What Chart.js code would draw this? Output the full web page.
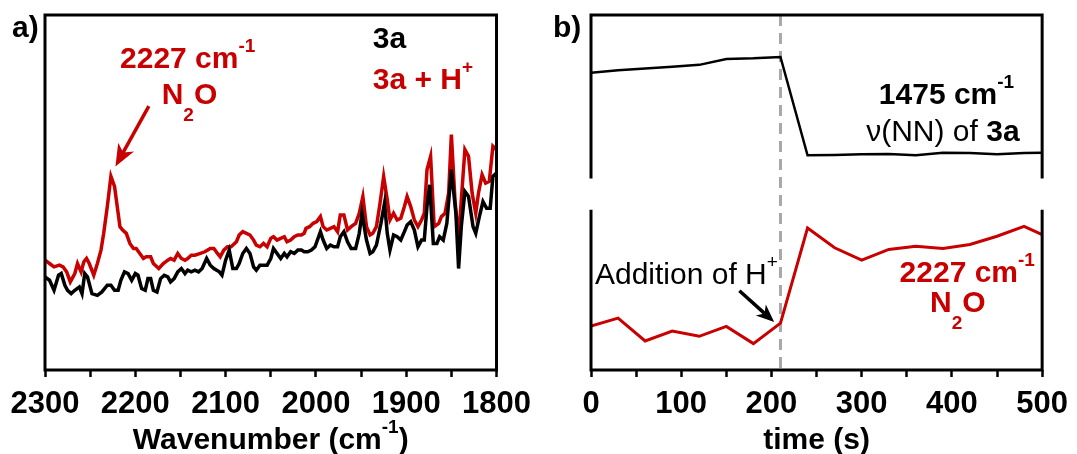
<!DOCTYPE html>
<html>
<head>
<meta charset="utf-8">
<script src="https://cdn.jsdelivr.net/npm/chart.js@4.4.0/dist/chart.umd.min.js"></script>
<style>
  html, body { margin: 0; padding: 0; background: #fff; }
  #wrap { position: relative; width: 1077px; height: 454px; overflow: hidden; }
  canvas { position: absolute; top: 0; }
  #irChart { left: 0; }
  #timeChart { left: 540px; }
</style>
</head>
<body>
<div id="wrap">
  <canvas id="irChart" width="540" height="454"></canvas>
  <canvas id="timeChart" width="537" height="454"></canvas>
</div>
<script>
const RED = '#c80000';
const FONT = "'Liberation Sans', Arial, sans-serif";

// a) IR spectra, 3a + H+ (red)
const wnRed = [2300, 2295, 2290, 2284, 2280, 2276, 2272, 2267, 2264, 2260,
  2257, 2254, 2251, 2246, 2242, 2238, 2235, 2231, 2227, 2223,
  2219, 2217, 2214, 2210, 2206, 2202, 2199, 2195, 2191, 2188,
  2183, 2180, 2174, 2169, 2164, 2161, 2157, 2153, 2149, 2145,
  2142, 2138, 2134, 2128, 2123, 2117, 2113, 2109, 2106, 2102,
  2098, 2094, 2088, 2085, 2081, 2077, 2073, 2069, 2066, 2062,
  2058, 2054, 2050, 2047, 2043, 2039, 2035, 2032, 2028, 2024,
  2020, 2016, 2013, 2011, 2007, 2003, 1999, 1995, 1992, 1988,
  1984, 1980, 1976, 1973, 1969, 1965, 1961, 1956, 1952, 1948,
  1944, 1940, 1937, 1933, 1929, 1925, 1921, 1918, 1914, 1910,
  1906, 1902, 1899, 1895, 1891, 1887, 1883, 1880, 1877, 1873,
  1869, 1864, 1861, 1857, 1853, 1850, 1846, 1842, 1839, 1835,
  1831, 1827, 1823, 1820, 1816, 1812, 1808, 1804, 1800];
const absRed = [32.8, 31.8, 30.8, 31.3, 30.8, 29.3, 26.3, 28.8, 31.8, 29.3,
  32.3, 33.3, 31.8, 28.3, 31.8, 35.8, 40.8, 48.8, 57.8, 54.8,
  46.8, 42.8, 41.8, 40.8, 37.8, 36.3, 36.3, 34.8, 33.3, 33.8,
  33.8, 31.8, 30.3, 31.8, 32.8, 33.3, 32.8, 34.8, 33.3, 32.8,
  33.3, 34.3, 34.3, 34.8, 35.3, 36.3, 36.3, 34.8, 33.8, 35.8,
  36.8, 36.8, 38.3, 40.3, 41.3, 40.8, 40.3, 38.8, 37.3, 36.8,
  37.8, 36.8, 39.3, 39.8, 38.8, 39.3, 39.8, 38.3, 38.8, 39.8,
  40.3, 40.3, 40.8, 42.3, 42.8, 43.8, 44.3, 45.8, 42.8, 41.8,
  42.3, 42.8, 41.3, 46.3, 46.3, 41.8, 42.8, 43.8, 46.8, 51.8,
  42.8, 40.3, 40.8, 42.8, 49.8, 57.8, 50.8, 44.8, 46.8, 44.8,
  45.3, 48.8, 51.8, 48.8, 44.8, 42.8, 44.8, 46.8, 59.8, 63.8,
  42.8, 43.8, 45.8, 46.8, 52.8, 70.3, 50.8, 38.8, 50.8, 65.8,
  63.8, 52.8, 46.8, 52.8, 58.3, 55.8, 56.3, 66.8, 65.8];

// a) IR spectra, 3a (black)
const wnBlack = [2300, 2295, 2290, 2285, 2282, 2278, 2275, 2271, 2267, 2262,
  2259, 2256, 2253, 2248, 2242, 2237, 2231, 2227, 2223, 2219,
  2216, 2212, 2208, 2204, 2200, 2197, 2193, 2189, 2186, 2183,
  2180, 2176, 2172, 2168, 2164, 2161, 2157, 2153, 2149, 2145,
  2142, 2138, 2134, 2130, 2126, 2121, 2117, 2113, 2107, 2104,
  2100, 2096, 2092, 2088, 2085, 2081, 2077, 2073, 2069, 2066,
  2062, 2054, 2050, 2047, 2043, 2039, 2035, 2032, 2028, 2024,
  2020, 2016, 2013, 2009, 2005, 2001, 1995, 1992, 1988, 1984,
  1980, 1976, 1973, 1969, 1965, 1961, 1956, 1952, 1949, 1944,
  1940, 1937, 1933, 1928, 1924, 1921, 1918, 1914, 1910, 1906,
  1902, 1899, 1895, 1891, 1887, 1883, 1880, 1877, 1874, 1870,
  1866, 1863, 1859, 1855, 1850, 1845, 1842, 1839, 1835, 1831,
  1826, 1823, 1819, 1815, 1811, 1807, 1804, 1800];
const absBlack = [27.8, 26.8, 23.8, 28.3, 28.8, 25.3, 23.8, 22.8, 23.8, 24.8,
  22.8, 28.8, 27.8, 22.8, 22.3, 23.3, 25.3, 25.3, 23.8, 23.8,
  26.8, 29.3, 28.8, 26.8, 28.8, 28.3, 24.3, 23.8, 27.3, 27.3,
  23.8, 23.3, 27.3, 28.3, 27.8, 26.3, 27.3, 29.3, 30.3, 28.8,
  29.8, 29.3, 29.8, 29.3, 30.3, 33.3, 31.3, 30.3, 29.3, 28.3,
  32.8, 35.8, 30.3, 30.3, 31.8, 34.8, 36.3, 34.8, 30.8, 29.8,
  31.3, 31.3, 33.3, 36.3, 34.8, 33.3, 34.8, 33.8, 35.3, 34.8,
  35.8, 35.8, 35.3, 35.3, 35.8, 36.8, 41.3, 38.8, 36.3, 37.3,
  36.8, 36.8, 39.8, 41.3, 38.3, 36.3, 36.3, 40.8, 46.8, 38.8,
  34.8, 35.3, 37.3, 43.8, 49.8, 40.8, 35.8, 40.3, 39.8, 38.8,
  41.3, 43.3, 44.3, 41.8, 36.8, 38.8, 38.8, 48.8, 55.3, 37.8,
  37.8, 39.8, 38.8, 43.8, 59.8, 46.8, 30.3, 42.8, 53.3, 51.8,
  42.8, 40.8, 45.8, 50.3, 48.3, 48.3, 57.8, 58.8];
const wnTicks = [2300, 2200, 2100, 2000, 1900, 1800];

// b) band intensity against time
const timeS = [0, 30, 60, 90, 120, 150, 180, 210, 240, 270, 300, 330, 360, 390, 420, 450, 480, 500];
const nnBand = [90, 90.8, 91.3, 91.8, 92.4, 94.2, 94.4, 94.8, 65, 65.1, 65.3, 65.4, 65, 65.8, 65.7, 65.3, 65.7, 65.8];
const n2oBand = [13.3, 15.7, 8.8, 11.8, 10.2, 13.2, 8, 14.2, 43, 37, 33.3, 36.5, 37.5, 36.8, 38, 40.5, 43.5, 41];
const timeTicks = [0, 100, 200, 300, 400, 500];
const additionTime = 210;

const pts = (xs, ys) => xs.map((x, i) => ({ x, y: ys[i] }));

// draw a run of text pieces: [text, size, weight, baseline shift]
function richText(ctx, parts, x, y, align, color) {
  let w = 0;
  parts.forEach(p => { ctx.font = `${p[2]} ${p[1]}px ${FONT}`; w += ctx.measureText(p[0]).width; });
  let cx = align === 'center' ? x - w / 2 : x;
  ctx.fillStyle = color;
  ctx.textAlign = 'left';
  ctx.textBaseline = 'alphabetic';
  parts.forEach(p => {
    ctx.font = `${p[2]} ${p[1]}px ${FONT}`;
    ctx.fillText(p[0], cx, y + p[3]);
    cx += ctx.measureText(p[0]).width;
  });
}

function arrow(ctx, x1, y1, x2, y2, color, lw, len, wid) {
  const ang = Math.atan2(y2 - y1, x2 - x1);
  ctx.save();
  ctx.strokeStyle = color;
  ctx.fillStyle = color;
  ctx.lineWidth = lw;
  ctx.beginPath();
  ctx.moveTo(x1, y1);
  ctx.lineTo(x2 - len * 0.7 * Math.cos(ang), y2 - len * 0.7 * Math.sin(ang));
  ctx.stroke();
  ctx.translate(x2, y2);
  ctx.rotate(ang);
  ctx.beginPath();
  ctx.moveTo(0, 0);
  ctx.lineTo(-len, -wid / 2);
  ctx.lineTo(-len * 0.72, 0);
  ctx.lineTo(-len, wid / 2);
  ctx.closePath();
  ctx.fill();
  ctx.restore();
}

const tickFont = { family: FONT, size: 31, weight: 'bold' };

const irDecor = {
  id: 'irDecor',
  afterDraw(chart) {
    const { ctx, chartArea: a } = chart;
    const xs = chart.scales.x, ys = chart.scales.y;
    ctx.save();
    ctx.strokeStyle = '#000';
    ctx.lineWidth = 3;
    ctx.strokeRect(a.left, a.top, a.right - a.left, a.bottom - a.top);

    richText(ctx, [['2227 cm', 30, 'bold', 0], ['-1', 19, 'bold', -16]],
      xs.getPixelForValue(2142), ys.getPixelForValue(90.3), 'center', RED);
    richText(ctx, [['N', 30, 'bold', 0], ['2', 19, 'bold', 17], ['O', 30, 'bold', 0]],
      xs.getPixelForValue(2140), ys.getPixelForValue(79.3), 'center', RED);
    arrow(ctx, xs.getPixelForValue(2185), ys.getPixelForValue(78.8),
      xs.getPixelForValue(2222), ys.getPixelForValue(60.8), RED, 3.5, 22, 18);
    richText(ctx, [['3a', 30, 'bold', 0]],
      xs.getPixelForValue(1937), ys.getPixelForValue(96), 'left', '#000');
    richText(ctx, [['3a + H', 30, 'bold', 0], ['+', 19, 'bold', -16]],
      xs.getPixelForValue(1937), ys.getPixelForValue(84), 'left', RED);

    richText(ctx, [['a)', 30, 'bold', 0]], 12, 37, 'left', '#000');
    richText(ctx, [['Wavenumber (cm', 30, 'bold', 0], ['-1', 19, 'bold', -16], [')', 30, 'bold', 0]],
      (a.left + a.right) / 2, 449, 'center', '#000');
    ctx.restore();
  }
};

const timeDecor = {
  id: 'timeDecor',
  beforeDatasetsDraw(chart) {
    const { ctx, chartArea: a } = chart;
    const x = chart.scales.x.getPixelForValue(additionTime);
    ctx.save();
    ctx.strokeStyle = '#a8a8a8';
    ctx.lineWidth = 3;
    ctx.setLineDash([11, 7]);
    ctx.beginPath();
    ctx.moveTo(x, a.top);
    ctx.lineTo(x, a.bottom);
    ctx.stroke();
    ctx.restore();
  },
  afterDraw(chart) {
    const { ctx, chartArea: a } = chart;
    const xs = chart.scales.x, ys = chart.scales.y;
    const gapTop = ys.getPixelForValue(58), gapBottom = ys.getPixelForValue(48.5);
    ctx.save();
    ctx.strokeStyle = '#000';
    ctx.lineWidth = 3;
    ctx.beginPath();
    ctx.moveTo(a.left, gapTop);
    ctx.lineTo(a.left, a.top);
    ctx.lineTo(a.right, a.top);
    ctx.lineTo(a.right, gapTop);
    ctx.moveTo(a.left, gapBottom);
    ctx.lineTo(a.left, a.bottom);
    ctx.lineTo(a.right, a.bottom);
    ctx.lineTo(a.right, gapBottom);
    ctx.stroke();

    richText(ctx, [['1475 cm', 30, 'bold', 0], ['-1', 19, 'bold', -16]],
      xs.getPixelForValue(394), ys.getPixelForValue(80.5), 'center', '#000');
    richText(ctx, [['\u03bd(NN) of ', 30, 'normal', 0], ['3a', 30, 'bold', 0]],
      xs.getPixelForValue(390), ys.getPixelForValue(69.4), 'center', '#000');
    richText(ctx, [['Addition of H', 30, 'normal', 0], ['+', 19, 'normal', -16]],
      xs.getPixelForValue(4.4), ys.getPixelForValue(25.9), 'left', '#000');
    arrow(ctx, xs.getPixelForValue(164.5), ys.getPixelForValue(24),
      xs.getPixelForValue(203), ys.getPixelForValue(14.5), '#000', 3.5, 18, 15);
    richText(ctx, [['2227 cm', 30, 'bold', 0], ['-1', 19, 'bold', -16]],
      xs.getPixelForValue(417), ys.getPixelForValue(26.5), 'center', RED);
    richText(ctx, [['N', 30, 'bold', 0], ['2', 19, 'bold', 17], ['O', 30, 'bold', 0]],
      xs.getPixelForValue(406.5), ys.getPixelForValue(17.5), 'center', RED);

    richText(ctx, [['b)', 30, 'bold', 0]], 13, 37, 'left', '#000');
    richText(ctx, [['time (s)', 30, 'bold', 0]], (a.left + a.right) / 2, 449, 'center', '#000');
    ctx.restore();
  }
};

const xGrid = { display: true, drawOnChartArea: false, drawTicks: true, tickLength: 7, tickWidth: 2.5, tickColor: '#000' };

new Chart(document.getElementById('irChart').getContext('2d'), {
  type: 'line',
  data: {
    datasets: [
      { label: '3a', data: pts(wnBlack, absBlack), borderColor: '#000', borderWidth: 3.5, pointRadius: 0, tension: 0 },
      { label: '3a + H+', data: pts(wnRed, absRed), borderColor: RED, borderWidth: 3.5, pointRadius: 0, tension: 0 }
    ]
  },
  options: {
    responsive: false,
    animation: false,
    layout: { padding: { left: 45, right: 42, top: 15, bottom: 0 } },
    plugins: { legend: { display: false }, tooltip: { enabled: false } },
    scales: {
      x: {
        type: 'linear', min: 1800, max: 2300, reverse: true,
        afterFit: s => { s.height = 84; },
        border: { display: false },
        grid: xGrid,
        ticks: {
          stepSize: 50, autoSkip: false, maxRotation: 0, padding: 9, color: '#000', font: tickFont,
          callback: v => wnTicks.includes(v) ? String(v) : ''
        }
      },
      y: { display: false, min: 0, max: 106 }
    }
  },
  plugins: [irDecor]
});

new Chart(document.getElementById('timeChart').getContext('2d'), {
  type: 'line',
  data: {
    datasets: [
      { label: '1475 cm-1', data: pts(timeS, nnBand), borderColor: '#000', borderWidth: 2.5, pointRadius: 0, tension: 0 },
      { label: '2227 cm-1', data: pts(timeS, n2oBand), borderColor: RED, borderWidth: 3, pointRadius: 0, tension: 0 }
    ]
  },
  options: {
    responsive: false,
    animation: false,
    layout: { padding: { left: 51, right: 28, top: 15, bottom: 0 } },
    plugins: { legend: { display: false }, tooltip: { enabled: false } },
    scales: {
      x: {
        type: 'linear', min: 0, max: 500,
        afterFit: s => { s.height = 84; },
        border: { display: false },
        grid: xGrid,
        ticks: {
          stepSize: 50, autoSkip: false, maxRotation: 0, padding: 9, color: '#000', font: tickFont,
          callback: v => timeTicks.includes(v) ? String(v) : ''
        }
      },
      y: { display: false, min: 0, max: 107.5 }
    }
  },
  plugins: [timeDecor]
});
</script>
</body>
</html>
